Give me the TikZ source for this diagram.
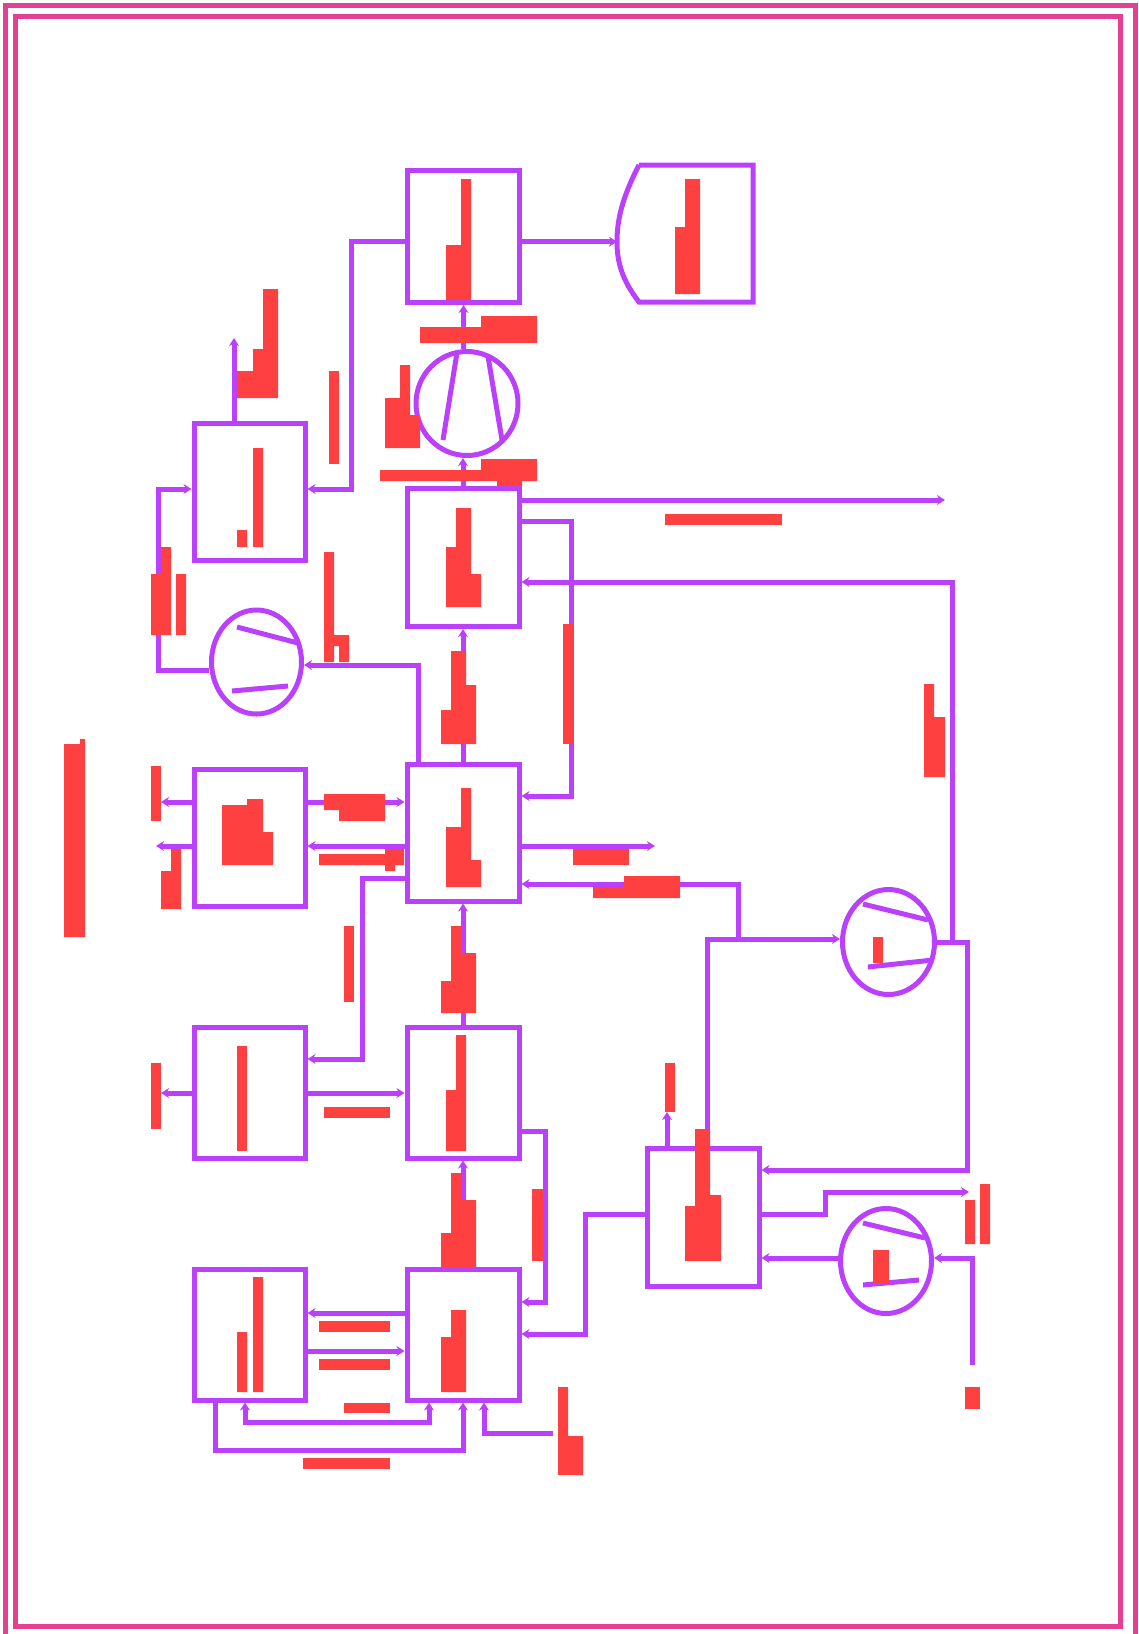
\documentclass[tikz,border=0pt]{standalone}
\usepackage{tikz}
\usetikzlibrary{arrows.meta}
\usetikzlibrary{shapes.geometric}
\definecolor{vio}{RGB}{187,64,252}
\definecolor{tagred}{RGB}{255,64,64}
\definecolor{frmpink}{RGB}{227,64,145}

\begin{document}
\begin{tikzpicture}[x=1pt,y=-1pt,
  wire/.style={draw=vio,line width=5pt},
  unit/.style={draw=vio,line width=5pt,rectangle,inner sep=0pt,minimum width=112pt},
  rot/.style={draw=vio,line width=5pt,ellipse,inner sep=0pt},
  tag/.style={fill=tagred},
  arr/.style={-{Stealth[length=8pt,width=10pt]}},
  rarr/.style={{Stealth[length=8pt,width=10pt]}-},
  barr/.style={{Stealth[length=8pt,width=10pt]}-{Stealth[length=8pt,width=10pt]}}]
\useasboundingbox (0,0) rectangle (1139,1634);
\draw[frmpink,line width=5pt] (5.3,5.5) rectangle (1135.5,1650);
\draw[frmpink,line width=5pt] (15.5,16.5) rectangle (1120.5,1626);

% units
\node[unit,minimum height=132pt] (A) at (463.5,236.5) {};
\node[unit,minimum height=138pt] (C) at (463,557.5) {};
\node[unit,minimum height=137pt] (F) at (463,832.5) {};
\node[unit,minimum height=131pt] (G) at (463,1092.5) {};
\node[unit,minimum height=131pt] (H) at (463,1334.5) {};
\node[unit,minimum width=111pt,minimum height=137pt] (B) at (249.5,491.5) {};
\node[unit,minimum width=111pt,minimum height=137pt] (E) at (249.5,837.5) {};
\node[unit,minimum width=111pt,minimum height=131pt] (I) at (249.5,1092.5) {};
\node[unit,minimum width=111pt,minimum height=131pt] (J) at (249.5,1334.5) {};
\node[unit,minimum height=138pt] (K) at (703,1217) {};
\node[rot,minimum width=102pt,minimum height=104pt] (c1) at (467,403.5) {};
\node[rot,minimum width=90pt,minimum height=104pt] (c2) at (256.5,662) {};
\node[rot,minimum width=92pt,minimum height=105pt] (c3) at (888.5,942) {};
\node[rot,minimum width=91pt,minimum height=105pt] (c4) at (886,1261) {};
\coordinate (D) at (617,241.7);
\draw[wire] (639,165) -- (753,165) -- (753,302) -- (639,302)
  .. controls (622,280) and (617,262) .. (D)
  .. controls (617,220) and (622,198) .. (639,165);

% inner strokes of the rotors
\draw[wire] ([shift={(-10,-51)}]c1.center) -- ([shift={(-24,36.5)}]c1.center);
\draw[wire] ([shift={(21,-47)}]c1.center) -- ([shift={(35,36.5)}]c1.center);
\draw[wire] ([shift={(-19.5,-35)}]c2.center) -- ([shift={(41.5,-19)}]c2.center);
\draw[wire] ([shift={(-24.5,29)}]c2.center) -- ([shift={(31.5,24)}]c2.center);
\draw[wire] ([shift={(-25.5,-38)}]c3.center) -- ([shift={(39.5,-22)}]c3.center);
\draw[wire] ([shift={(-20.5,25)}]c3.center) -- ([shift={(44.5,18)}]c3.center);
\draw[wire] ([shift={(-23,-38)}]c4.center) -- ([shift={(39,-23)}]c4.center);
\draw[wire] ([shift={(-23,24)}]c4.center) -- ([shift={(33,19)}]c4.center);

% connectors
\draw[wire,arr] (A.east |- D) -- (D);
\draw[wire,arr] (c1.north -| A.south) -- (A.south);
\draw[wire,arr] (C.north) -- (C.north |- c1.south);
\draw[wire,arr] (B.north -| 234,0) -- (234,338);
\draw[wire,rarr] (B.east |- 0,489) -| (351,241.7) -- (A.west |- D);
\draw[wire,rarr] (B.west |- 0,489) -| (158,670) -- (c2.west |- 0,670);
\draw[wire,rarr] (c2.east |- 0,665) -| (F.north -| 418,0);
\draw[wire,rarr] (C.south) -- (F.north);
\draw[wire,arr] (C.east |- 0,500) -- (945,500);
\draw[wire,arr] (C.east |- 0,521.6) -| (571,796) -- (F.east |- 0,796);
\draw[wire,rarr] (C.east |- 0,582) -| (952,942);
\draw[wire,arr] (F.east |- 0,846) -- (655,846);
\draw[wire,barr] (F.east |- 0,884) -| (738,939) -- (c3.west |- 0,939);
\draw[wire] (K.north -| 707,0) |- (738,939);
\draw[wire,rarr] (F.south) -- (G.north);
\draw[wire,arr] (E.west |- 0,802) -- (161,802);
\draw[wire,arr] (E.west |- 0,846) -- (156,846);
\draw[wire,arr] (E.east |- 0,802) -- (F.west |- 0,802);
\draw[wire,rarr] (E.east |- 0,846) -- (F.west |- 0,846);
\draw[wire,arr] (F.west |- 0,878) -| (362,1059) -- (I.east |- 0,1059);
\draw[wire,arr] (I.west |- 0,1093) -- (161,1093);
\draw[wire,arr] (I.east |- 0,1093) -- (G.west |- 0,1093);
\draw[wire,rarr] (G.south) -- (H.north);
\draw[wire,arr] (G.east |- 0,1131) -| (545,1302) -- (H.east |- 0,1302);
\draw[wire,rarr] (H.east |- 0,1334) -| (585,1214) -- (K.west |- 0,1214);
\draw[wire,rarr] (J.east |- 0,1313) -- (H.west |- 0,1313);
\draw[wire,arr] (J.east |- 0,1351) -- (H.west |- 0,1351);
\draw[wire,barr] (J.south -| 245,0) |- (429,1422) -- (H.south -| 429,0);
\draw[wire,arr] (J.south -| 215,0) |- (463,1450) -- (H.south);
\draw[wire,rarr] (H.south -| 484,0) |- (553,1433);
\draw[wire,arr] (K.north -| 667,0) -- (667,1112);
\draw[wire,arr] (c3.east) -| (967,1170) -- (K.east |- 0,1170);
\draw[wire,arr] (K.east |- 0,1214) -| (825,1192) -- (969,1192);
\draw[wire,arr] (c4.west |- 0,1258) -- (K.east |- 0,1258);
\draw[wire,rarr] (c4.east |- 0,1258) -| (972,1365);

% labels
\fill[tag] (461,179) rectangle (471,300) (446,245) rectangle (471,300);
\fill[tag] (685,179) rectangle (700,227) (675,227) rectangle (700,294);
\fill[tag] (420,327) rectangle (537,343) (481,316) rectangle (537,327);
\fill[tag] (385,398) rectangle (400,448) (400,365) rectangle (410,448) (410,415) rectangle (420,448);
\fill[tag] (380,470) rectangle (537,481) (481,459) rectangle (537,470) (497,481) rectangle (522,486);
\fill[tag] (237,371) rectangle (278,398) (253,349) rectangle (278,371) (263,289) rectangle (278,349);
\fill[tag] (329,371) rectangle (339,464);
\fill[tag] (253,448) rectangle (263,547) (237,530) rectangle (247,547);
\fill[tag] (151,574) rectangle (171,635) (161,547) rectangle (171,574) (176,574) rectangle (186,635);
\fill[tag] (456,508) rectangle (471,607) (446,547) rectangle (471,607) (446,574) rectangle (481,607);
\fill[tag] (665,514) rectangle (782,525);
\fill[tag] (563,624) rectangle (573,744);
\fill[tag] (324,552) rectangle (334,662) (334,635) rectangle (349,646) (339,646) rectangle (349,662);
\fill[tag] (451,651) rectangle (466,685) (451,685) rectangle (476,744) (441,710) rectangle (476,744);
\fill[tag] (924,717) rectangle (945,777) (924,684) rectangle (934,717);
\fill[tag] (64,744) rectangle (85,937) (80,739) rectangle (85,744);
\fill[tag] (151,766) rectangle (161,821);
\fill[tag] (161,871) rectangle (181,909) (171,849) rectangle (181,871);
\fill[tag] (222,805) rectangle (263,865) (247,799) rectangle (263,805) (263,832) rectangle (273,865);
\fill[tag] (324,794) rectangle (385,810) (339,810) rectangle (385,821);
\fill[tag] (319,854) rectangle (404,865) (385,849) rectangle (404,854) (385,865) rectangle (395,871);
\fill[tag] (461,788) rectangle (471,887) (446,827) rectangle (471,887) (471,860) rectangle (481,887);
\fill[tag] (573,849) rectangle (629,865);
\fill[tag] (593,887) rectangle (680,898) (624,876) rectangle (680,887);
\fill[tag] (344,926) rectangle (354,1002);
\fill[tag] (451,926) rectangle (461,953) (451,953) rectangle (476,981) (441,981) rectangle (476,1013);
\fill[tag] (873,937) rectangle (883,963);
\fill[tag] (151,1063) rectangle (161,1129);
\fill[tag] (237,1046) rectangle (247,1151);
\fill[tag] (324,1107) rectangle (390,1118);
\fill[tag] (456,1035) rectangle (466,1151) (446,1090) rectangle (466,1151);
\fill[tag] (451,1173) rectangle (461,1200) (451,1200) rectangle (476,1233) (441,1233) rectangle (476,1267);
\fill[tag] (532,1189) rectangle (543,1261);
\fill[tag] (665,1063) rectangle (675,1112);
\fill[tag] (695,1129) rectangle (710,1261) (685,1206) rectangle (721,1261) (695,1195) rectangle (721,1206);
\fill[tag] (965,1200) rectangle (975,1244) (980,1184) rectangle (990,1244);
\fill[tag] (873,1250) rectangle (889,1283);
\fill[tag] (253,1277) rectangle (263,1392) (237,1332) rectangle (247,1392);
\fill[tag] (451,1310) rectangle (466,1392) (441,1337) rectangle (466,1392);
\fill[tag] (319,1321) rectangle (390,1332);
\fill[tag] (319,1359) rectangle (390,1370);
\fill[tag] (344,1403) rectangle (390,1413);
\fill[tag] (303,1458) rectangle (390,1469);
\fill[tag] (558,1387) rectangle (568,1475) (558,1436) rectangle (583,1475);
\fill[tag] (965,1387) rectangle (980,1409);
\end{tikzpicture}
\end{document}
